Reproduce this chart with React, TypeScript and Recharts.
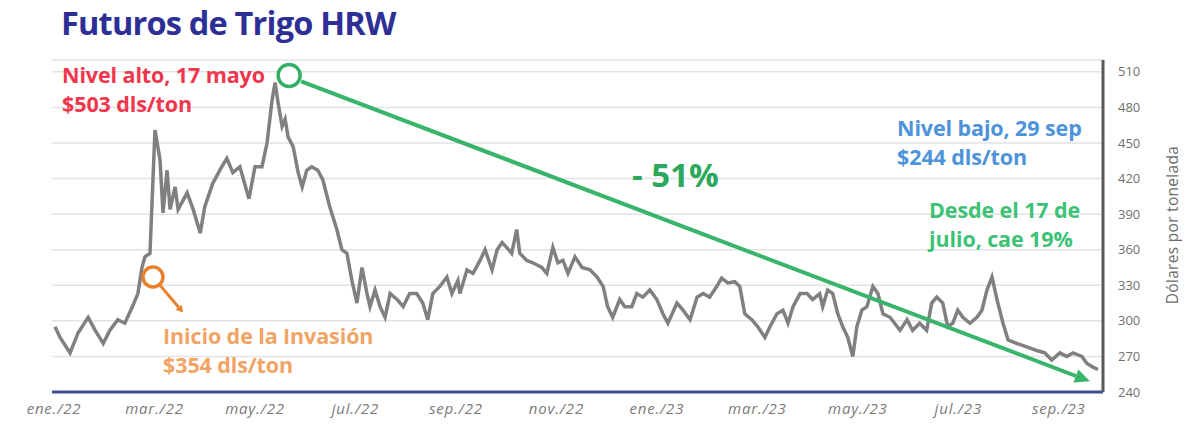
import React from "react";
import {
  LineChart,
  Line,
  XAxis,
  YAxis,
  CartesianGrid,
  ReferenceDot,
  ReferenceLine,
} from "recharts";

// months since 1 Jan 2022 (0 = ene./22)
const meses = [
  0.02, 0.12, 0.32, 0.48, 0.68, 0.82, 0.98, 1.11, 1.27, 1.41, 1.55, 1.67, 1.75, 1.81, 1.91,
  2.01, 2.11, 2.17, 2.25, 2.31, 2.41, 2.47, 2.65, 2.77, 2.91, 3.0, 3.16, 3.34, 3.44, 3.56,
  3.7, 3.88, 4.0, 4.14, 4.24, 4.34, 4.4, 4.46, 4.54, 4.6, 4.66, 4.76, 4.86, 4.94, 5.03,
  5.13, 5.25, 5.35, 5.49, 5.63, 5.73, 5.83, 5.93, 6.03, 6.13, 6.23, 6.29, 6.39, 6.49, 6.59,
  6.69, 6.83, 6.95, 7.08, 7.22, 7.34, 7.44, 7.54, 7.68, 7.82, 7.92, 8.04, 8.08, 8.22, 8.34,
  8.48, 8.58, 8.72, 8.82, 8.92, 9.01, 9.11, 9.21, 9.27, 9.41, 9.53, 9.71, 9.81, 9.93, 10.03,
  10.13, 10.23, 10.37, 10.51, 10.67, 10.81, 10.93, 11.02, 11.12, 11.26, 11.36, 11.5, 11.6,
  11.72, 11.86, 12.0, 12.12, 12.22, 12.4, 12.52, 12.66, 12.8, 12.92, 13.05, 13.19, 13.29,
  13.41, 13.55, 13.65, 13.75, 13.89, 14.01, 14.15, 14.25, 14.39, 14.51, 14.61, 14.71, 14.85,
  14.99, 15.1, 15.24, 15.3, 15.4, 15.5, 15.6, 15.7, 15.8, 15.9, 15.98, 16.08, 16.18, 16.3,
  16.4, 16.5, 16.64, 16.84, 16.98, 17.09, 17.23, 17.37, 17.47, 17.57, 17.69, 17.79, 17.89,
  17.99, 18.09, 18.23, 18.37, 18.47, 18.57, 18.67, 18.77, 18.89, 18.99, 19.16, 19.36, 19.56,
  19.72, 19.86, 20.02, 20.16, 20.28, 20.46, 20.56, 20.68, 20.78,
];

// HRW wheat futures, USD per ton
const precios = [
  295, 286, 273, 290, 303, 292, 281, 292, 301, 298, 311, 323, 345, 354, 357,
  461, 436, 391, 427, 394, 413, 394, 408, 394, 374, 396, 416, 430, 437, 425,
  430, 403, 430, 430, 450, 486, 501, 484, 464, 470, 455, 447, 425, 413, 427,
  430, 427, 419, 396, 377, 360, 357, 334, 315, 345, 323, 312, 326, 312, 303,
  323, 318, 312, 323, 323, 315, 301, 323, 329, 337, 323, 334, 323, 343, 340,
  351, 360, 343, 360, 366, 362, 357, 377, 357, 351, 349, 345, 340, 362, 349,
  351, 340, 354, 345, 343, 337, 329, 312, 303, 318, 312, 312, 323,
  320, 326, 318, 306, 298, 315, 309, 301, 320, 323, 320, 329, 336,
  332, 333, 329, 306, 301, 295, 286, 295, 306, 309, 298, 312, 323,
  323, 318, 323, 312, 326, 323, 306, 295, 286, 270, 295, 309, 312, 329,
  323, 306, 303, 292, 301, 292, 298, 292, 315, 320, 315, 295, 298,
  309, 303, 298, 303, 309, 326, 337, 318, 298, 284, 281, 278, 275,
  273, 267, 273, 270, 273, 270, 264, 261, 259,
];

const tickMeses = [0, 2, 4, 6, 8, 10, 12, 14, 16, 18, 20];
const tickEtiquetas = [
  "ene./22", "mar./22", "may./22", "jul./22", "sep./22", "nov./22",
  "ene./23", "mar./23", "may./23", "jul./23", "sep./23",
];
const tickPrecios = [240, 270, 300, 330, 360, 390, 420, 450, 480, 510];

// annotation anchors (data units)
const circuloAlto = { mes: 4.68, precio: 507 };
const circuloInvasion = { mes: 1.97, precio: 337 };
const caida = [
  { mes: 4.92, precio: 502 },
  { mes: 20.62, precio: 249 },
];
const flechaInvasion = [
  { mes: 2.11, precio: 330 },
  { mes: 2.57, precio: 307 },
];

const data = meses.map((m, i) => ({ mes: m, precio: precios[i] }));

const etiquetaMes = (v: number) => tickEtiquetas[tickMeses.indexOf(v)] ?? "";

const Flecha = (props: any) => {
  const { x1, y1, x2, y2, stroke, strokeWidth, cabeza = 14, ancho = 7 } = props;
  const ang = Math.atan2(y2 - y1, x2 - x1);
  const hx = x2 - cabeza * Math.cos(ang);
  const hy = y2 - cabeza * Math.sin(ang);
  const px = ancho * Math.sin(ang);
  const py = ancho * Math.cos(ang);
  return (
    <g>
      <line x1={x1} y1={y1} x2={hx} y2={hy} stroke={stroke} strokeWidth={strokeWidth} />
      <polygon
        points={`${x2},${y2} ${hx + px},${hy - py} ${hx - px},${hy + py}`}
        fill={stroke}
      />
    </g>
  );
};

const nota = (color: string): React.CSSProperties => ({
  position: "absolute",
  color,
  fontFamily: "'Open Sans', sans-serif",
  fontWeight: 700,
  fontSize: 21.5,
  lineHeight: "29px",
  whiteSpace: "nowrap",
  letterSpacing: -0.1,
});

export default function App() {
  return (
    <div style={{ position: "absolute", left: 0, top: 0, width: 1191, height: 440, background: "#fff" }}>
      <div
        style={{
          position: "absolute",
          left: 61,
          top: 0,
          fontFamily: "'Open Sans', sans-serif",
          fontWeight: 700,
          fontSize: 32.5,
          letterSpacing: -0.8,
          color: "#2d2f96",
          whiteSpace: "nowrap",
        }}
      >
        Futuros de Trigo HRW
      </div>

      <LineChart
        width={1191}
        height={440}
        data={data}
        margin={{ top: 60, right: 0, left: 52, bottom: 0 }}
      >
        <CartesianGrid vertical={false} stroke="#e3e3e6" strokeWidth={1.5} />
        <XAxis
          dataKey="mes"
          type="number"
          domain={[-0.04, 20.88]}
          ticks={tickMeses}
          tickFormatter={etiquetaMes}
          height={48}
          axisLine={{ stroke: "#3d4a8e", strokeWidth: 3 }}
          tickLine={false}
          tickSize={0}
          tickMargin={11}
          tick={{
            fill: "#7a7a7a",
            fontSize: 15,
            fontStyle: "italic",
            letterSpacing: 0.8,
            fontFamily: "'Open Sans', sans-serif",
          }}
        />
        <YAxis
          orientation="right"
          type="number"
          domain={[240, 520]}
          ticks={tickPrecios}
          width={88}
          axisLine={{ stroke: "#5a5a5a", strokeWidth: 3 }}
          tickLine={false}
          tickSize={0}
          tickMargin={15}
          tick={{ fill: "#707070", fontSize: 13, fontFamily: "'Open Sans', sans-serif" }}
        />
        <Line
          type="linear"
          dataKey="precio"
          stroke="#808080"
          strokeWidth={3.5}
          dot={false}
          isAnimationActive={false}
        />
        <ReferenceLine
          segment={[
            { x: flechaInvasion[0].mes, y: flechaInvasion[0].precio },
            { x: flechaInvasion[1].mes, y: flechaInvasion[1].precio },
          ]}
          stroke="#e8822e"
          strokeWidth={3}
          shape={(p: any) => <Flecha {...p} cabeza={7} ancho={4} />}
        />
        <ReferenceDot
          x={circuloInvasion.mes}
          y={circuloInvasion.precio}
          r={10}
          fill="#fff"
          fillOpacity={0.6}
          stroke="#e8822e"
          strokeWidth={3.5}
        />
        <ReferenceLine
          segment={[
            { x: caida[0].mes, y: caida[0].precio },
            { x: caida[1].mes, y: caida[1].precio },
          ]}
          stroke="#38b56a"
          strokeWidth={4}
          shape={(p: any) => <Flecha {...p} cabeza={15} ancho={7} />}
        />
        <ReferenceDot
          x={circuloAlto.mes}
          y={circuloAlto.precio}
          r={11}
          fill="#fff"
          stroke="#34b066"
          strokeWidth={3.5}
        />
      </LineChart>

      <div
        style={{
          position: "absolute",
          left: 1172,
          top: 225,
          transform: "translate(-50%, -50%) rotate(-90deg)",
          fontFamily: "'Open Sans', sans-serif",
          fontSize: 15.5,
          letterSpacing: 0.3,
          color: "#6c6c6c",
          whiteSpace: "nowrap",
        }}
      >
        Dólares por tonelada
      </div>

      <div style={{ ...nota("#f0364c"), left: 62, top: 60 }}>
        Nivel alto, 17 mayo
        <br />
        $503 dls/ton
      </div>
      <div style={{ ...nota("#f2a465"), left: 163, top: 321 }}>
        Inicio de la Invasión
        <br />
        $354 dls/ton
      </div>
      <div style={{ ...nota("#4d93da"), left: 897, top: 113 }}>
        Nivel bajo, 29 sep
        <br />
        $244 dls/ton
      </div>
      <div style={{ ...nota("#3dc275"), left: 929, top: 195 }}>
        Desde el 17 de
        <br />
        julio, cae 19%
      </div>
      <div
        style={{
          position: "absolute",
          left: 632,
          top: 152,
          color: "#2ca85c",
          fontFamily: "'Open Sans', sans-serif",
          fontWeight: 700,
          fontSize: 33,
          whiteSpace: "nowrap",
        }}
      >
        - 51%
      </div>
    </div>
  );
}
